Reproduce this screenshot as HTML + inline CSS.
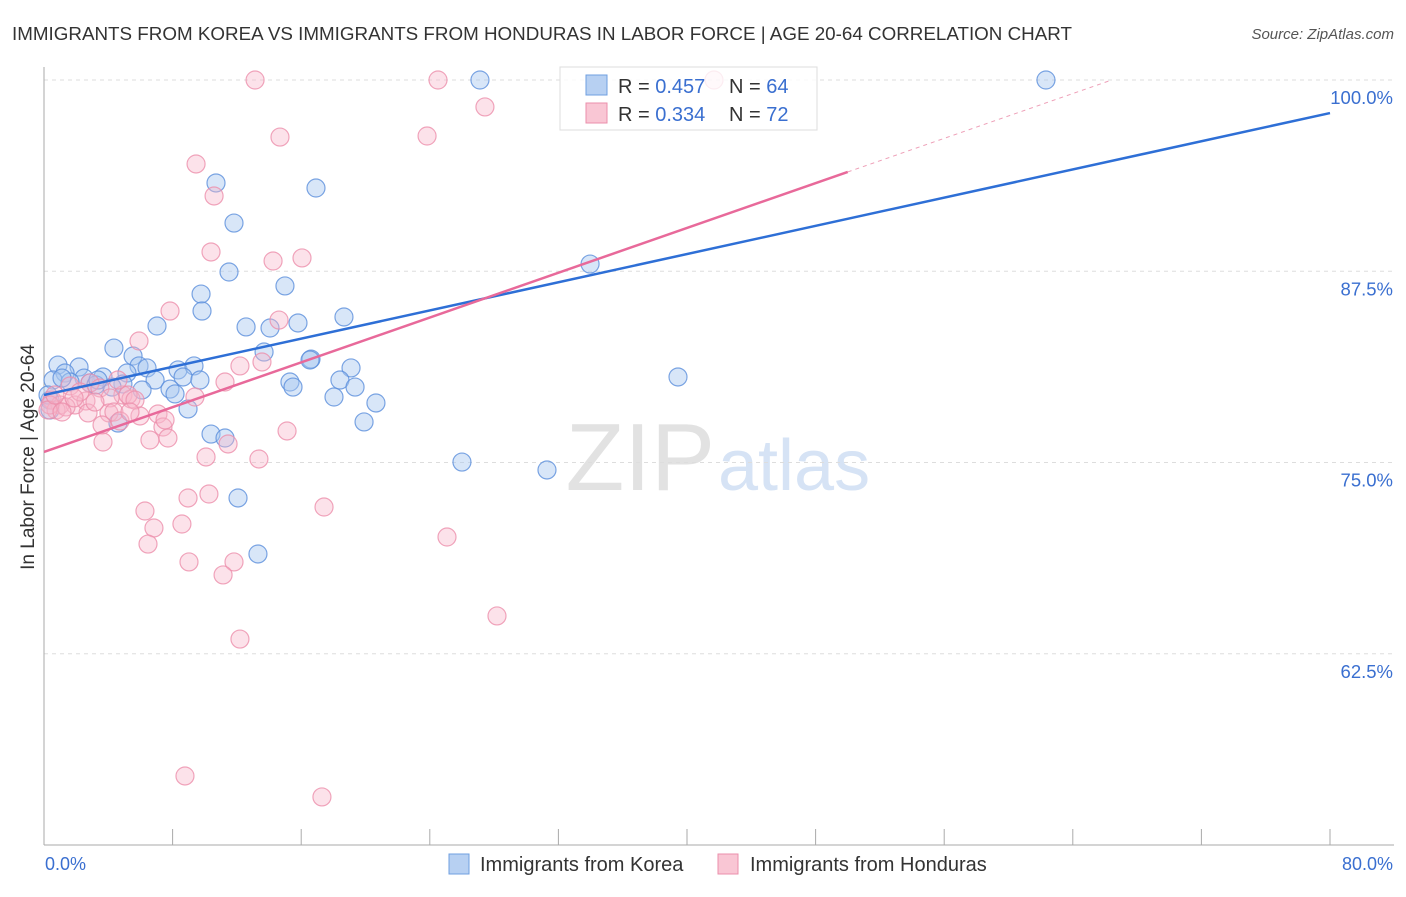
<!DOCTYPE html>
<html><head><meta charset="utf-8">
<style>
body{margin:0;background:#fff;font-family:"Liberation Sans",sans-serif;}
svg text{font-family:"Liberation Sans",sans-serif;}
</style></head>
<body>
<svg id="c" width="1406" height="892" xmlns="http://www.w3.org/2000/svg">
<text x="12" y="40" font-size="18.5" fill="#333" textLength="1060" lengthAdjust="spacingAndGlyphs">IMMIGRANTS FROM KOREA VS IMMIGRANTS FROM HONDURAS IN LABOR FORCE | AGE 20-64 CORRELATION CHART</text>
<text x="1394" y="39" font-size="15" fill="#555" font-style="italic" text-anchor="end">Source: ZipAtlas.com</text>
<text x="715" y="490" font-size="96" fill="#e2e2e2" text-anchor="end" font-family="Liberation Serif">ZIP</text>
<text x="718" y="490" font-size="72" fill="#d6e3f5">atlas</text>
<text transform="translate(34,457) rotate(-90)" font-size="19" fill="#333" text-anchor="middle">In Labor Force | Age 20-64</text>
<g id="grid"></g><g id="pts"></g><g id="lines"></g>
<g>
<rect x="560" y="67" width="257" height="63" fill="#fff" fill-opacity="0.8" stroke="#ddd"/>
<rect x="586" y="75" width="21" height="20" fill="#b7d0f2" stroke="#6f9fe0"/>
<rect x="586" y="103" width="21" height="20" fill="#f9c6d4" stroke="#eb8fab"/>
<text x="618" y="93" font-size="20" fill="#333">R = <tspan fill="#3a6fd0">0.457</tspan></text>
<text x="729" y="93" font-size="20" fill="#333">N = <tspan fill="#3a6fd0">64</tspan></text>
<text x="618" y="121" font-size="20" fill="#333">R = <tspan fill="#3a6fd0">0.334</tspan></text>
<text x="729" y="121" font-size="20" fill="#333">N = <tspan fill="#3a6fd0">72</tspan></text>
</g>
<g>
<rect x="449" y="854" width="20" height="20" fill="#b7d0f2" stroke="#6f9fe0"/>
<text x="480" y="871" font-size="20" fill="#333">Immigrants from Korea</text>
<rect x="718" y="854" width="20" height="20" fill="#f9c6d4" stroke="#eb8fab"/>
<text x="750" y="871" font-size="20" fill="#333">Immigrants from Honduras</text>
</g>
<text x="45" y="870" font-size="18" fill="#3a6fd0">0.0%</text>
<text x="1393" y="870" font-size="18" fill="#3a6fd0" text-anchor="end">80.0%</text>
</svg>
<script>
const yTicks=[100,87.5,75,62.5];
const yTickLabels=["100.0%","87.5%","75.0%","62.5%"];
const xTicks=[0,8,16,24,32,40,48,56,64,72,80];
const koreaPx=[[480,80],[1046,80],[216,183],[316,188],[234,223],[229,272],[590,264],[201,294],[285,286],[202,311],[157,326],[246,327],[270,328],[298,323],[344,317],[114,348],[264,352],[133,356],[311,359],[58,365],[79,367],[139,366],[147,368],[178,370],[194,366],[351,368],[65,373],[84,378],[103,377],[127,373],[155,380],[183,377],[678,377],[290,382],[293,387],[340,380],[355,387],[90,383],[96,385],[123,384],[112,387],[142,390],[170,389],[175,394],[334,397],[376,403],[53,380],[50,400],[188,409],[118,423],[364,422],[211,434],[225,438],[462,462],[547,470],[238,498],[258,554],[50,410],[70,382],[310,360],[62,378],[200,380],[48,395],[98,380]];
const hondPx=[[255,80],[438,80],[714,80],[485,107],[280,137],[427,136],[196,164],[214,196],[211,252],[273,261],[302,258],[170,311],[279,320],[139,341],[262,362],[240,366],[225,382],[70,386],[90,383],[100,388],[123,395],[131,399],[195,397],[52,400],[60,405],[75,405],[86,401],[110,398],[128,395],[135,400],[56,410],[66,407],[88,413],[109,413],[114,412],[140,416],[158,414],[120,421],[102,425],[163,427],[150,440],[168,438],[228,444],[103,442],[206,457],[259,459],[287,431],[209,494],[188,498],[324,507],[145,511],[154,528],[182,524],[148,544],[447,537],[189,562],[234,562],[223,575],[497,616],[240,639],[185,776],[322,797],[50,405],[48,410],[55,395],[80,392],[118,380],[165,420],[130,412],[95,402],[74,398],[62,412]];
const koreaX=koreaPx.map(p=>+((p[0]-44)/16.075).toFixed(2));
const koreaY=koreaPx.map(p=>+(100-(p[1]-80)/15.3).toFixed(2));
const hondX=hondPx.map(p=>+((p[0]-44)/16.075).toFixed(2));
const hondY=hondPx.map(p=>+(100-(p[1]-80)/15.3).toFixed(2));
const koreaTrend=[79.41,97.84];
const hondTrend=[75.69,93.99];
</script>
<script>
const X=v=>44+v*16.075, Y=v=>80+(100-v)*15.3;
const NS="http://www.w3.org/2000/svg";
function mk(tag,parent,attrs){const e=document.createElementNS(NS,tag);for(const k in attrs)e.setAttribute(k,attrs[k]);document.getElementById(parent).appendChild(e);return e;}
yTicks.forEach((t,i)=>{
 const l=mk('line','grid',{x1:44,x2:1394,y1:Y(t),y2:Y(t),stroke:'#ddd','stroke-dasharray':'4,4'});
 
 
 const tx=mk('text','grid',{x:1393,y:Y(t)+24,'font-size':18.5,fill:'#3a6fd0','text-anchor':'end'});
 tx.textContent=yTickLabels[i];
 
 
});
let ax=mk('line','grid',{x1:44,x2:44,y1:67,y2:845,stroke:'#aaa'});


let bx=mk('line','grid',{x1:44,x2:1394,y1:845,y2:845,stroke:'#aaa'});


xTicks.forEach(t=>{const l=mk('line','grid',{x1:X(t),x2:X(t),y1:829,y2:845,stroke:'#aaa'});
 
 });
koreaX.forEach((v,i)=>{const c=mk('circle','pts',{cx:X(v),cy:Y(koreaY[i]),r:9,fill:'#a9c8f0','fill-opacity':0.45,stroke:'#5b8fdc','stroke-opacity':0.8,'stroke-width':1.2});
 
 });
hondX.forEach((v,i)=>{const c=mk('circle','pts',{cx:X(v),cy:Y(hondY[i]),r:9,fill:'#f7b7ca','fill-opacity':0.4,stroke:'#ec8fab','stroke-opacity':0.8,'stroke-width':1.2});
 
 });
let kl=mk('line','lines',{x1:X(0),y1:Y(koreaTrend[0]),x2:X(80),y2:Y(koreaTrend[1]),stroke:'#2e6fd6','stroke-width':2.5});


const slope=(hondTrend[1]-hondTrend[0])/50;
let hl=mk('line','lines',{x1:X(0),y1:Y(hondTrend[0]),x2:X(50),y2:Y(hondTrend[1]),stroke:'#e8699a','stroke-width':2.5});


const xe=(100-hondTrend[0])/slope;
let hd=mk('line','lines',{x1:X(50),y1:Y(hondTrend[1]),x2:X(xe),y2:Y(100),stroke:'#eea0b8','stroke-width':1,'stroke-dasharray':'4,4'});


</script>
</body></html>
